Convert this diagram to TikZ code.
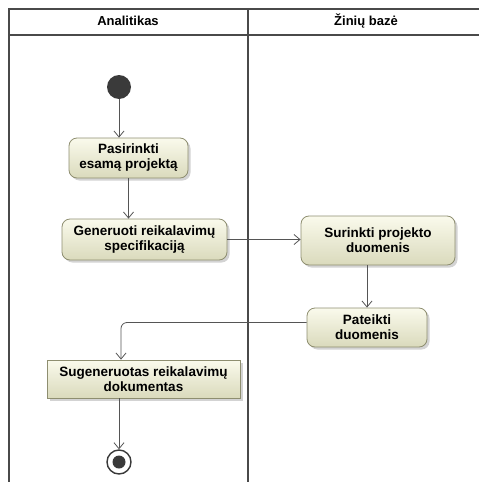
\documentclass[tikz,border=0pt]{standalone}
\usepackage{fontspec}
\setmainfont{Liberation Sans}
\usetikzlibrary{arrows.meta,shadows,positioning}
\definecolor{remas}{HTML}{4A4A4A}
\definecolor{linij}{HTML}{555555}
\definecolor{kontur}{HTML}{8E8E70}
\definecolor{sviesi}{HTML}{FAFAEC}
\definecolor{tamsi}{HTML}{DADABC}
\definecolor{taskas}{HTML}{3A3A3A}
\tikzset{
  perej/.style={-{Straight Barb[length=6pt,width=10pt]},linij,line width=0.8pt},
  ramas/.style={remas,line width=1.8pt},
  akt/.style={draw=kontur,line width=0.8pt,rounded corners=8pt,top color=sviesi,bottom color=tamsi,
    drop shadow={shadow xshift=2.5pt,shadow yshift=-2.5pt,opacity=0.35},
    align=center,font=\fontsize{13.5}{15}\selectfont\bfseries,inner sep=0pt},
  obj/.style={akt,rounded corners=0pt},
  pradzia/.style={circle,fill=taskas,minimum size=24pt,inner sep=0pt},
  pabaiga/.style={circle,draw=taskas,fill=white,line width=1.4pt,minimum size=24pt,inner sep=0pt},
  galva/.style={font=\fontsize{13}{15}\selectfont\bfseries},
}
\begin{document}
\begin{tikzpicture}[x=1pt,y=-1pt]
  \useasboundingbox (0,0) rectangle (479,482);
  % plaukimo takai
  \draw[ramas] (9,490) -- (9,9) -- (490,9);
  \draw[ramas] (9,35) -- (490,35);
  \draw[ramas] (248,9) -- (248,490);
  \node[galva] (anal) at (128,21) {Analitikas};
  \node[galva] (zin) at (366,21) {Žinių bazė};
  % veiksmai
  \node[pradzia] (pr) at (119,87) {};
  \node[akt,minimum width=119pt,minimum height=40pt] (pas) at (128.5,158) {Pasirinkti\\esamą projektą};
  \node[akt,minimum width=165pt,minimum height=41pt] (gen) at (144.5,239.5) {Generuoti reikalavimų\\specifikaciją};
  \node[akt,minimum width=154pt,minimum height=49pt] (sur) at (378,240.5) {Surinkti projekto\\duomenis};
  \node[akt,minimum width=120pt,minimum height=39pt] (pat) at (367,327.5) {Pateikti\\duomenis};
  \node[obj,minimum width=193pt,minimum height=38pt] (dok) at (143.5,379) {Sugeneruotas reikalavimų\\dokumentas};
  \node[pabaiga] (pab) at (119,462) {};
  \fill[taskas] (pab.center) circle (6.5pt);
  % perejimai
  \coordinate (posuk) at (121,0);
  \draw[perej] (pr) -- (pr |- pas.north);
  \draw[perej] (pas.south) -- (pas.south |- gen.north);
  \draw[perej] (gen.east) -- (gen.east -| sur.west);
  \draw[perej] (pat.north |- sur.south) -- (pat.north);
  \draw[perej,rounded corners=6pt] ([yshift=5pt]pat.west) -| (posuk |- dok.north);
  \draw[perej] (pab |- dok.south) -- (pab.north);
\end{tikzpicture}
\end{document}
